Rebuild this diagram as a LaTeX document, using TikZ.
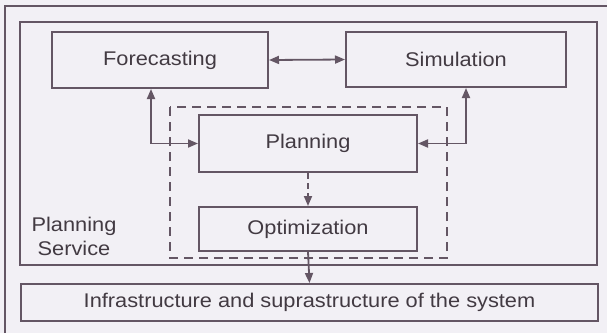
\documentclass[tikz,border=0pt]{standalone}
\usepackage{fontspec}
\setmainfont{Liberation Sans}
\newfontfamily\diagfont[FakeStretch=1.1]{Liberation Sans}
\usetikzlibrary{arrows.meta}
\definecolor{linec}{RGB}{100,86,100}
\definecolor{textc}{RGB}{66,58,66}
\definecolor{bgc}{RGB}{242,240,245}
\begin{document}
\begin{tikzpicture}[x=1pt,y=-1pt,
  lbl/.style={text=textc, font=\diagfont\fontsize{19.8}{24}\selectfont},
  box/.style={draw=linec, line width=2pt, rectangle, inner sep=0pt, lbl},
  conn/.style={draw=linec, line width=1.8pt, {Triangle[length=10pt,width=8pt]}-{Triangle[length=10pt,width=8pt]}},
  oneway/.style={draw=linec, line width=1.8pt, -{Triangle[length=10pt,width=8pt]}},
  dashbox/.style={draw=linec, line width=2pt, dash pattern=on 9pt off 6pt}]
\fill[bgc] (0,0) rectangle (607,333);
\useasboundingbox (0,0) rectangle (607,333);
% outer page frame (open at right and bottom)
\draw[linec, line width=2pt] (5,333) -- (5,6) -- (607,6);
% planning service frame
\node[box, minimum width=577pt, minimum height=243pt] (ps) at (308.5,143.5) {};
\node[lbl, align=center, inner sep=0pt] (pstext) at (74,236) {Planning\\Service};
% dashed region
\draw[dashbox] (170,107) rectangle (447,258);
% boxes
\node[box, minimum width=216pt, minimum height=56pt] (fc) at (160,60) {Forecasting};
\node[box, minimum width=220pt, minimum height=55pt] (sim) at (456,59.5) {Simulation};
\node[box, minimum width=218pt, minimum height=57pt, fill=bgc] (pl) at (308,143.5) {Planning};
\node[box, minimum width=218pt, minimum height=44pt, fill=bgc] (opt) at (308,229) {Optimization};
\node[box, minimum width=577pt, minimum height=37pt] (inf) at (309.5,302.5) {Infrastructure and suprastructure of the system};
% connectors
\coordinate (c1) at (151,88);
\coordinate (c2) at (466,87);
\draw[conn] (fc.east) -- (sim.west);
\draw[conn] (fc.south -| c1) |- (pl.west);
\draw[conn] (sim.south -| c2) |- (pl.east);
\draw[oneway, dash pattern=on 6pt off 4pt] (pl.south) -- (opt.north);
\draw[oneway] (opt.south) -- (inf.north);
\end{tikzpicture}
\end{document}
